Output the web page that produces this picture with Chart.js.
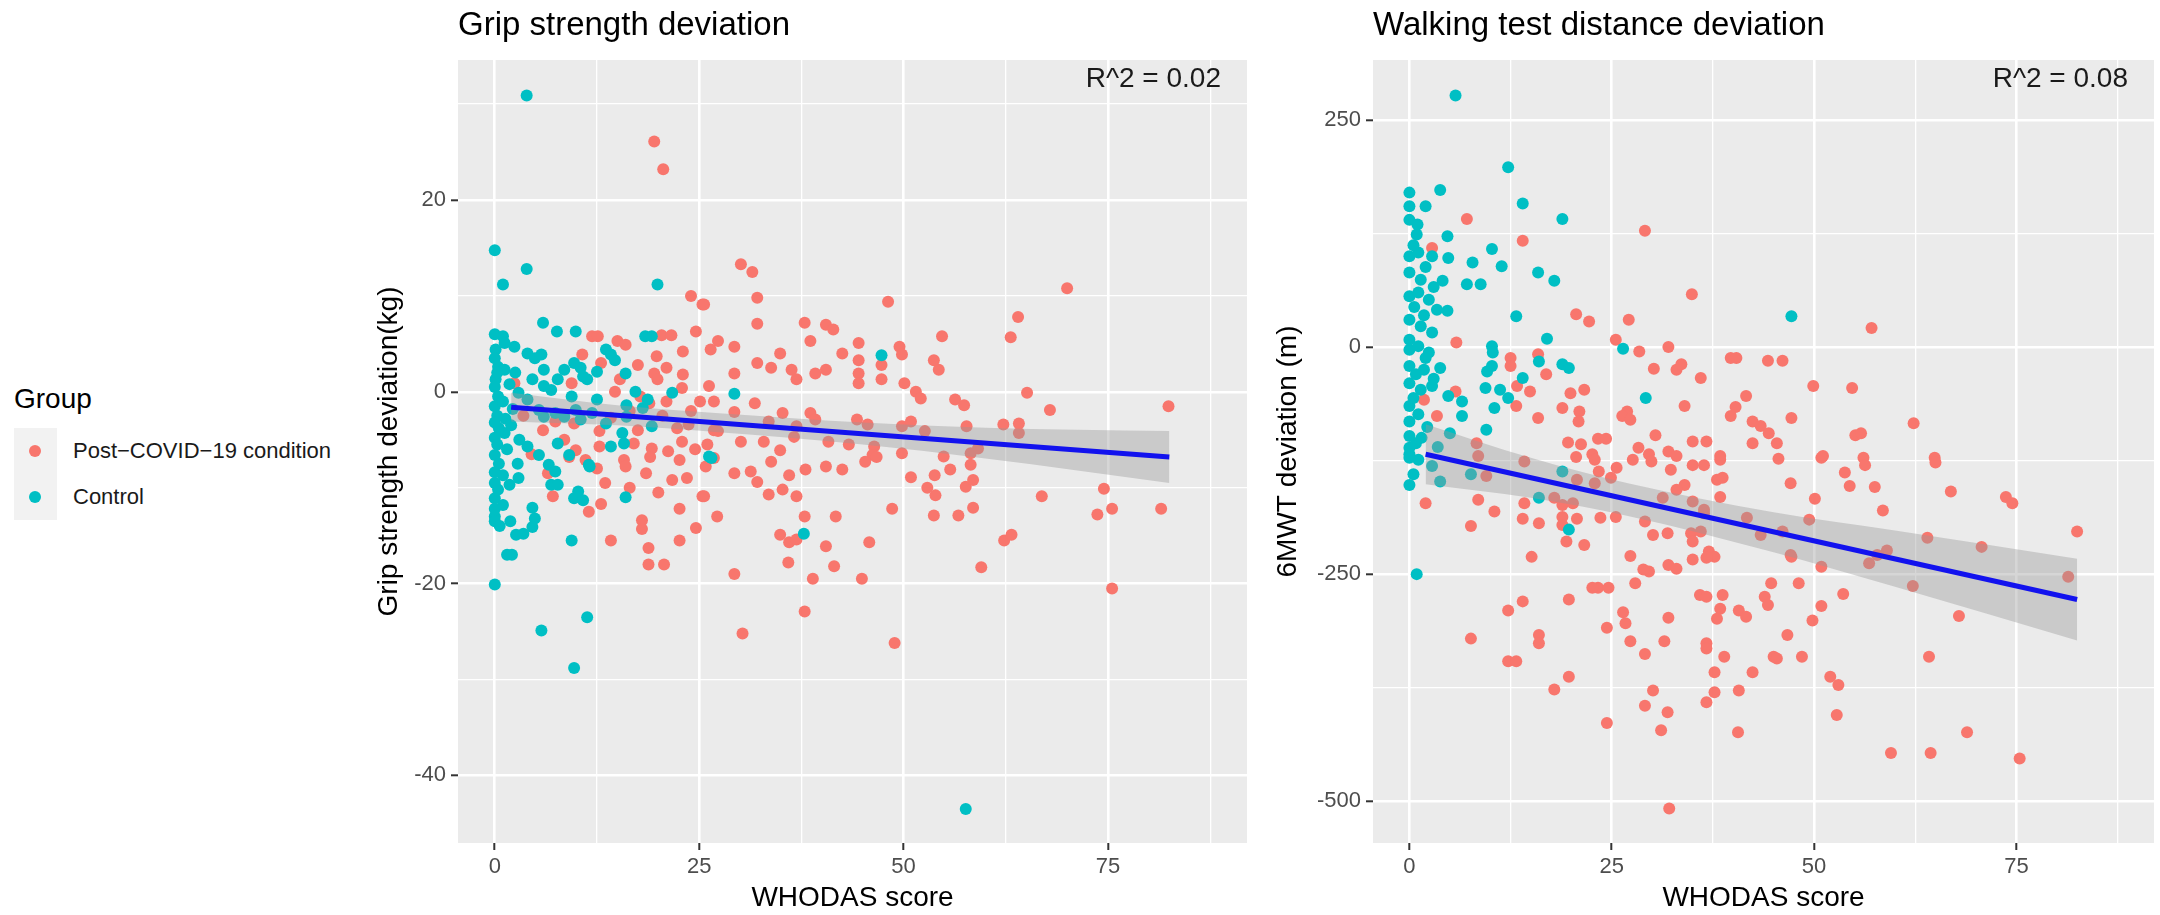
<!DOCTYPE html>
<html>
<head>
<meta charset="utf-8">
<title>Grip strength and walking test deviation vs WHODAS score</title>
<script src="https://cdn.jsdelivr.net/npm/chart.js@4.4.1/dist/chart.umd.min.js"></script>
<style>
  html, body { margin: 0; padding: 0; background: #fff; }
  body { width: 2160px; height: 915px; position: relative; overflow: hidden;
         font-family: "Liberation Sans", Arial, sans-serif; }
  canvas { position: absolute; top: 0; }
  #grip-canvas { left: 340px; }
  #walk-canvas { left: 1260px; }
  .legend-title { position: absolute; left: 14px; top: 383px; font-size: 28px; line-height: 32px; color: #000; }
  .legend-key { position: absolute; left: 14px; width: 43px; height: 46px; background: #F2F2F2; }
  .legend-key span { position: absolute; left: 15px; top: 17px; width: 12px; height: 12px; border-radius: 50%; }
  .legend-label { position: absolute; left: 73px; font-size: 22px; line-height: 26px; color: #1a1a1a; white-space: nowrap; }
</style>
</head>
<body>
<div id="legend"></div>
<canvas id="grip-canvas" width="920" height="915"></canvas>
<canvas id="walk-canvas" width="900" height="915"></canvas>

<script>
// ============================================================
// DATA
// ============================================================
const groupLabels = ['Post\u2212COVID\u221219 condition', 'Control'];
const panelTitles = ['Grip strength deviation', 'Walking test distance deviation'];
const yAxisTitles = ['Grip strength deviation(kg)', '6MWT deviation (m)'];
const xAxisTitle = 'WHODAS score';
const r2Texts = ['R^2 = 0.02', 'R^2 = 0.08'];

// x axis (shared WHODAS score scale)
const whodasTicks = [0, 25, 50, 75];
const whodasMinor = [12.5, 37.5, 62.5, 87.5];
const whodasRange = [-4.5, 92];

// grip strength y axis
const gripYTicks = [20, 0, -20, -40];
const gripYMinor = [30, 10, -10, -30];
const gripYRange = [-47.05, 34.6];

// walking test y axis
const walkYTicks = [250, 0, -250, -500];
const walkYMinor = [125, -125, -375];
const walkYRange = [-546, 316];

// ---- Grip strength: Post-COVID-19 condition [WHODAS, kg] ----
const gripPostCovid = [
  [19.5,26.1],[20.6,23.2],[24.0,10.0],[25.4,9.1],[24.6,6.3],[11.9,5.8],[12.6,5.8],[15.0,5.3],[16.0,4.9],
  [20.4,5.9],[21.6,5.9],[10.7,3.9],[19.8,3.7],[23.0,4.2],[26.4,4.4],[19.5,1.9],[19.9,1.3],[15.3,1.3],
  [22.9,0.4],[26.2,0.6],[2.4,0.9],[9.4,0.9],[14.7,0.0],[17.8,-0.5],[18.9,-1.2],[25.1,-1.0],[5.9,-4.0],
  [7.4,-3.1],[9.7,-3.3],[12.8,-4.1],[14.2,-2.7],[17.5,-4.0],[22.3,-3.8],[23.7,-3.4],[26.8,-4.0],[8.5,-5.0],
  [9.9,-6.1],[12.8,-5.7],[17.0,-5.4],[19.2,-5.9],[21.2,-6.2],[22.9,-5.2],[26.0,-5.5],
  [7.1,-10.9],[13.0,-11.7],[14.2,-15.5],[18.0,-13.4],[18.0,-14.3],[18.8,-16.3],[18.8,-18.0],[20.7,-18.0],
  [21.7,-9.2],[22.6,-12.2],[22.6,-15.5],[24.6,-14.2],[25.4,-10.9],[15.8,-7.1],[16.0,-7.8],[22.6,-7.1],
  [9.1,-6.8],[11.1,-7.1],[12.5,-8.0],
  [16.5,-2.0],[20.5,-2.5],[21.0,-1.0],[24.0,-2.0],[18.5,-8.5],[20.0,-10.5],[23.5,-9.0],[25.8,-7.8],
  [13.5,-9.5],[11.5,-12.5],[3.5,-2.5],[4.5,-6.5],[6.5,-8.5],[16.5,-10.0],[19.0,-6.8],[21.0,2.5],
  [17.5,2.8],[13.0,3.0],[24.5,-6.0],[23.0,1.8],
  [30.1,13.3],[31.5,12.5],[32.1,9.8],[25.6,9.1],[32.1,7.1],[48.1,9.4],[70.0,10.8],[64.0,7.8],[63.1,5.7],
  [37.9,7.2],[40.5,7.0],[41.4,6.5],[54.7,5.8],[38.6,5.3],[29.3,4.7],[27.3,5.3],[34.9,4.0],[42.5,4.0],
  [44.5,5.1],[49.5,4.7],[32.1,3.0],[29.3,1.9],[33.8,2.5],[36.3,2.3],[36.9,1.3],[39.2,1.9],[40.5,2.3],
  [44.5,3.3],[44.5,1.9],[44.5,0.9],[47.3,2.8],[47.3,1.3],[50.1,0.9],[49.8,3.9],[53.7,3.3],[54.3,2.3],
  [51.5,0.0],[52.1,-0.7],[56.3,-0.8],[57.4,-1.4],[65.1,-0.1],[67.9,-1.9],[82.4,-1.5],[26.8,-1.0],
  [29.3,-2.1],[31.8,-1.2],[33.5,-3.1],[35.2,-2.2],[36.9,-3.6],[38.6,-2.2],[39.2,-2.9],[44.3,-2.9],
  [45.6,-3.4],[49.8,-3.6],[50.9,-3.1],[52.6,-4.1],[57.7,-3.6],[62.2,-3.4],[64.1,-3.3],[64.1,-4.3],
  [27.3,-4.1],[30.1,-5.2],[32.9,-5.2],[34.9,-6.1],[36.6,-4.7],[40.8,-5.2],[43.3,-5.5],[46.4,-5.7],
  [46.2,-6.6],[49.8,-6.4],[54.9,-6.75],[58.2,-6.4],[59.1,-5.9],
  [25.6,-10.9],[27.2,-13.0],[29.3,-19.0],[30.3,-25.2],[33.5,-10.7],[35.2,-10.2],[36.9,-10.9],[37.9,-13.0],
  [34.9,-14.9],[36.0,-15.7],[36.9,-15.4],[35.9,-17.8],[38.9,-19.5],[37.9,-22.9],[40.5,-16.1],[41.7,-13.0],
  [41.5,-18.2],[44.9,-19.5],[45.8,-15.7],[48.6,-12.2],[48.9,-26.2],[50.9,-8.9],[52.9,-10.0],[53.9,-10.8],
  [53.8,-8.7],[55.7,-8.1],[53.7,-12.9],[56.7,-12.9],[58.5,-12.1],[57.6,-9.9],[58.5,-9.2],[59.5,-18.3],
  [62.3,-15.5],[63.2,-14.9],[66.9,-10.9],[74.5,-10.1],[73.7,-12.8],[75.5,-12.2],[75.5,-20.5],[81.5,-12.2],
  [26.8,-6.9],[29.3,-8.5],[31.3,-8.3],[32.1,-9.4],[33.8,-7.3],[36.0,-8.7],[38.0,-8.1],[40.5,-7.8],
  [42.5,-8.1],[45.3,-7.3],[46.7,-6.8],[58.2,-7.6]
];

// ---- Grip strength: Control ----
const gripControl = [
  [3.9,30.9],[0,14.75],[1.0,11.2],[3.9,12.8],[19.9,11.2],[5.9,7.2],[7.6,6.3],[9.9,6.3],[18.4,5.8],[19.2,5.8],
  [0,-20.1],[5.7,-24.9],[11.3,-23.5],[9.7,-28.8],[9.4,-15.5],[1.5,-17],[2.1,-17],[16,-11],[11.6,-7.8],
  [57.6,-43.5],[37.8,-14.8],[26.5,-6.9],[47.3,3.8],[29.3,-0.2],[26.2,-6.75],
  [1.0,5.8],[0.1,4.4],[1.2,5.1],[2.4,4.7],[0.4,2.6],[0.1,1.3],[1.2,2.3],[4.0,4.0],[4.9,3.5],[5.7,3.9],
  [4.6,1.3],[6.0,2.3],[6.9,0.2],[7.7,1.3],[8.5,2.3],[9.7,3.0],[10.5,2.5],[10.8,1.6],[11.3,1.3],[12.5,2.1],
  [13.6,4.4],[14.2,3.9],[14.7,3.3],[16.0,1.9],[17.2,0.0],[18.7,-0.8],[18.1,-1.7],[21.7,-0.1],[16.1,-1.4],
  [12.5,-0.8],[9.4,-0.5],[6.0,0.6],[2.9,-0.1],[4.0,-0.8],[5.4,-1.9],[6.0,-2.6],[7.4,-2.2],[8.5,-2.6],
  [9.9,-1.9],[10.5,-2.9],[11.9,-2.2],[13.6,-3.3],[16.1,-2.6],[19.2,-3.6],[15.6,-4.3],[15.8,-5.4],
  [14.2,-5.7],[7.7,-5.4],[5.4,-6.6],[4.0,-5.7],[9.1,-6.6],[1.2,-4.3],
  [0,-6.6],[0.5,-7.5],[0,-8.4],[1.0,-8.7],[1.8,-9.7],[2.9,-9.0],[0,-11.1],[0,-13.0],[0,-13.5],[1.9,-13.5],
  [4.6,-12.1],[4.9,-13.2],[2.6,-14.9],[3.5,-14.8],[4.6,-14.1],[6.6,-7.6],[7.4,-8.3],[6.9,-9.7],[7.7,-9.7],
  [9.7,-11.1],[10.2,-10.4],[10.8,-11.3],[11.5,-7.6],
  [0,6.0],[0,3.5],[0.3,2.0],[0,0.5],[0.4,-0.5],[0,-1.5],[0.3,-2.5],[0,-3.2],[0.5,-3.8],[0,-4.8],
  [0.3,-5.5],[0,-9.5],[0.4,-10.2],[0,-12.2],[1.0,-1.0],[1.3,-2.8],[1.5,-6.0],[2.0,-3.5],[2.2,-1.8],
  [2.5,2.0],[3.0,-5.0],[1.8,0.8],[2.8,-7.5],[1.0,-11.8],[0.6,-14.0]
];

// ---- Grip strength: linear fit and 95% band ----
const gripFitLine = [[2, -1.6], [82.5, -6.8]];
const gripBandUpper = [[2, -0.1], [15, -1.4], [27, -2.2], [45, -3.2], [60, -3.75], [82.5, -4.1]];
const gripBandLower = [[2, -3.1], [15, -3.5], [27, -4.2], [45, -5.5], [60, -6.95], [82.5, -9.5]];

// ---- Walking test: Post-COVID-19 condition [WHODAS, m] ----
const walkPostCovid = [
  [7.1,141],[14.0,117],[29.1,128],[2.8,109],[34.9,58],[20.6,36],[22.2,28],[27.1,30],[57.1,21],[5.8,5],
  [25.5,8],[28.4,-5],[32.0,0],[12.5,-12],[12.5,-21],[15.9,-8],[16.9,-30],[30.2,-24],[33.0,-25],[33.6,-19],
  [36.0,-34],[39.7,-12],[40.4,-12],[44.3,-15],[46.1,-15],[49.9,-43],[54.7,-45],[13.3,-43],[14.9,-49],
  [19.9,-51],[21.6,-47],[5.7,-49],[1.8,-58],[3.4,-76],[13.2,-65],[15.9,-78],[18.9,-67],[21.0,-71],
  [20.9,-82],[26.9,-71],[26.3,-76],[27.3,-80],[34.0,-65],[41.6,-54],[40.3,-66],[39.7,-76],[42.4,-82],
  [43.4,-87],[44.4,-95],[45.4,-106],[47.2,-78],[55.1,-97],[55.8,-95],[62.3,-84],[64.9,-122],[30.4,-97],
  [19.6,-105],[21.2,-107],[23.3,-101],[24.3,-101],[8.3,-106],[35.0,-104],[36.7,-104],[42.4,-106],
  [51.1,-120],[56.1,-122],[28.3,-111],[29.6,-118],[32.0,-115],[33.0,-120],[38.4,-120],[22.6,-118],
  [8.5,-120],[14.2,-126],[9.5,-142],[2.0,-172],[8.5,-168],[10.5,-181],[14.2,-172],[14.0,-189],[16.0,-194],
  [7.6,-197],[17.9,-166],[18.9,-174],[20.2,-172],[18.9,-187],[18.9,-196],[19.4,-214],[20.7,-189],
  [21.6,-218],[23.6,-188],[25.5,-187],[15.1,-231],[20.7,-146],[22.9,-150],[23.4,-137],[24.9,-144],
  [20.6,-121],[22.9,-124],[25.6,-133],[27.3,-230],[29.1,-192],[30.1,-207],[31.9,-205],[31.3,-166],
  [29.6,-247],[28.9,-245],[32.0,-240],[33.0,-244],[32.3,-135],[34.0,-152],[33.0,-157],[35.0,-170],
  [36.4,-179],[36.4,-183],[34.8,-205],[36.0,-203],[35.0,-214],[35.0,-234],[37.0,-225],[37.7,-231],
  [36.7,-232],[38.0,-146],[38.7,-144],[38.4,-165],[36.4,-130],[35.0,-130],[41.7,-188],[43.4,-207],
  [46.1,-203],[47.1,-150],[49.4,-190],[50.1,-167],[47.1,-229],[50.9,-242],[44.7,-260],[48.1,-260],
  [53.6,-272],[23.3,-265],[24.6,-265],[22.6,-265],[27.9,-260],[14.0,-280],[12.2,-290],[19.7,-278],
  [35.9,-273],[36.7,-275],[38.7,-273],[43.9,-275],[44.3,-284],[26.4,-292],[26.7,-304],[24.4,-309],
  [32.0,-298],[40.7,-290],[41.6,-297],[38.4,-288],[38.0,-299],[50.9,-285],[49.8,-301],[27.3,-324],
  [31.5,-324],[36.7,-326],[36.7,-332],[16.0,-317],[16.0,-326],[7.6,-321],[29.1,-338],[46.7,-317],
  [38.9,-341],[45.0,-341],[45.4,-343],[48.5,-341],[42.4,-358],[37.7,-358],[64.2,-341],[52.0,-363],
  [53.0,-372],[12.2,-346],[13.2,-346],[19.7,-363],[17.9,-377],[30.1,-378],[37.7,-380],[36.7,-391],
  [40.7,-378],[29.1,-395],[31.9,-402],[52.8,-405],[24.4,-414],[31.1,-422],[40.6,-424],[68.9,-424],
  [59.5,-447],[64.4,-447],[75.4,-453],[32.1,-508],[82.5,-203],[81.4,-253],[70.7,-220],[67.9,-296],
  [62.2,-263],[64.0,-210],[59.0,-224],[56.8,-238],[57.8,-229],[47.2,-231],[50.9,-122],[53.8,-138],
  [54.4,-153],[56.3,-130],[57.5,-154],[58.5,-180],[66.9,-159],[73.7,-165],[74.5,-172],[65.0,-127],
  [45.6,-123],[38.4,-124],[29.9,-126],[27.6,-124]
];

// ---- Walking test: Control ----
const walkControl = [
  [5.7,277],[12.2,198],[18.9,141],[0,170],[0,155],[2.0,155],[3.8,173],[14.0,158],[0.9,124],[4.7,122],
  [0,100],[1.1,104],[2.8,100],[4.8,98],[7.8,93],[10.2,108],[11.4,89],[0,82],[1.4,74],[4.1,73],[7.1,69],
  [8.8,69],[15.9,82],[17.9,73],[0,56],[1.1,60],[2.4,52],[3.4,41],[4.7,40],[13.2,34],[47.2,34],[0,30],
  [1.4,23],[2.8,16],[17.0,9],[0,-3],[1.1,1],[2.4,-6],[10.2,1],[10.3,-6],[26.4,-2],[0,-21],[1.8,-25],
  [3.8,-23],[9.6,-27],[10.2,-21],[16.0,-16],[18.9,-19],[19.7,-23],[14.0,-34],[0,-40],[1.4,-47],[2.8,-43],
  [9.4,-45],[11.2,-47],[12.2,-56],[4.8,-54],[6.5,-60],[6.5,-76],[10.5,-67],[29.2,-56],[0,-65],[1.1,-74],
  [0,-82],[9.5,-91],[0,-98],[0.8,-106],[0,-111],[0,-118],[1.1,-124],[0,-122],[0,-152],[2.8,-131],
  [3.8,-148],[7.6,-140],[18.9,-137],[16.0,-166],[19.7,-201],[0.9,-250],
  [0,140],[1.0,135],[0.5,112],[2.0,88],[3.0,66],[0.6,44],[1.8,35],[0,8],[2.0,-12],[0.8,-30],[3.0,-35],
  [0.5,-56],[2.2,-88],[1.5,-100],[0.5,-140],[3.5,-110],[5.0,-95]
];

// ---- Walking test: linear fit and 95% band ----
const walkFitLine = [[2, -118], [82.5, -278]];
const walkBandUpper = [[2, -85], [15, -122], [27, -150], [45, -182], [60, -202], [82.5, -233]];
const walkBandLower = [[2, -151], [15, -166], [27, -186], [45, -226], [60, -264], [82.5, -323]];

// ============================================================
// STYLE
// ============================================================
const POST_RED = '#F8766D';
const CONTROL_TEAL = '#00BFC4';
const FIT_BLUE = '#1212EE';
const BAND_FILL = 'rgba(153,153,153,0.4)';
const PANEL_GREY = '#EBEBEB';
const TICK_GREY = '#4D4D4D';
const FONT = '"Liberation Sans", Arial, sans-serif';
const POINT_R = 6;

Chart.defaults.font.family = FONT;

// ============================================================
// LEGEND (HTML, left of the first panel)
// ============================================================
function renderLegend() {
  const el = document.getElementById('legend');
  const colors = [POST_RED, CONTROL_TEAL];
  let html = '<div class="legend-title">Group</div>';
  groupLabels.forEach((label, i) => {
    const top = 428 + i * 46;
    html += `<div class="legend-key" style="top:${top}px"><span style="background:${colors[i]}"></span></div>`;
    html += `<div class="legend-label" style="top:${top + 10}px">${label}</div>`;
  });
  el.innerHTML = html;
}

// ============================================================
// PLUGINS
// ============================================================
const panelBackground = {
  id: 'panelBackground',
  beforeDraw(chart) {
    const { ctx, chartArea: a } = chart;
    ctx.save();
    ctx.fillStyle = PANEL_GREY;
    ctx.fillRect(a.left, a.top, a.right - a.left, a.bottom - a.top);
    ctx.restore();
  }
};

const r2Label = {
  id: 'r2Label',
  afterDatasetsDraw(chart, args, opts) {
    const { ctx, chartArea: a } = chart;
    ctx.save();
    ctx.font = `28px ${FONT}`;
    ctx.fillStyle = '#1a1a1a';
    ctx.textAlign = 'right';
    ctx.textBaseline = 'alphabetic';
    ctx.fillText(opts.text, a.right - 26, a.top + 27);
    ctx.restore();
  }
};

// ============================================================
// HELPERS
// ============================================================
const toPoints = (arr) => arr.map(([x, y]) => ({ x, y }));

function tickList(major, minor) {
  return major.map(v => ({ value: v, minor: false }))
    .concat(minor.map(v => ({ value: v, minor: true })))
    .sort((a, b) => a.value - b.value);
}

const tickLabel = (value, index, ticks) => (ticks[index] && ticks[index].minor ? '' : String(value));

const gridStyle = {
  color: '#FFFFFF',
  lineWidth: (c) => (c.tick && c.tick.minor ? 1.3 : 2.6),
  drawTicks: true,
  tickLength: 7,
  tickWidth: 2,
  tickColor: (c) => (c.tick && c.tick.minor ? 'rgba(0,0,0,0)' : '#333333')
};

function makePanel(canvasId, p) {
  const ctx = document.getElementById(canvasId).getContext('2d');
  return new Chart(ctx, {
    type: 'scatter',
    data: {
      datasets: [
        { type: 'line', data: toPoints(p.fit), borderColor: FIT_BLUE, borderWidth: 5,
          pointRadius: 0, fill: false },
        { type: 'line', data: toPoints(p.upper), borderWidth: 0, borderColor: 'rgba(0,0,0,0)',
          backgroundColor: BAND_FILL, pointRadius: 0, fill: '+1', cubicInterpolationMode: 'monotone' },
        { type: 'line', data: toPoints(p.lower), borderWidth: 0, borderColor: 'rgba(0,0,0,0)',
          pointRadius: 0, fill: false, cubicInterpolationMode: 'monotone' },
        { label: groupLabels[1], data: toPoints(p.control), pointBackgroundColor: CONTROL_TEAL,
          pointBorderWidth: 0, pointRadius: POINT_R, pointHoverRadius: POINT_R },
        { label: groupLabels[0], data: toPoints(p.post), pointBackgroundColor: POST_RED,
          pointBorderWidth: 0, pointRadius: POINT_R, pointHoverRadius: POINT_R }
      ]
    },
    options: {
      responsive: false,
      animation: false,
      devicePixelRatio: 1,
      events: [],
      layout: { padding: { left: 0, right: p.padRight, top: 0, bottom: 0 } },
      plugins: {
        legend: { display: false },
        tooltip: { enabled: false },
        title: {
          display: true, text: p.title, align: 'start', fullSize: false, color: '#000',
          font: { size: 33, weight: 'normal' }, padding: { top: 6, bottom: 14.4 }
        },
        r2Label: { text: p.r2 }
      },
      scales: {
        x: {
          type: 'linear', min: whodasRange[0], max: whodasRange[1], bounds: 'data',
          afterBuildTicks: (s) => { s.ticks = tickList(whodasTicks, whodasMinor); },
          afterFit: (s) => { s.height = 72; },
          ticks: { autoSkip: false, maxRotation: 0, color: TICK_GREY, font: { size: 22 },
                   padding: 4, callback: tickLabel },
          grid: gridStyle,
          border: { display: false },
          title: { display: true, text: xAxisTitle, color: '#000', font: { size: 28 },
                   padding: { top: 0, bottom: 0 } }
        },
        y: {
          type: 'linear', min: p.yRange[0], max: p.yRange[1], bounds: 'data',
          afterBuildTicks: (s) => { s.ticks = tickList(p.yTicks, p.yMinor); },
          afterFit: (s) => { s.width = p.yAxisWidth; },
          ticks: { autoSkip: false, color: TICK_GREY, font: { size: 22 }, padding: 5, callback: tickLabel },
          grid: gridStyle,
          border: { display: false },
          title: { display: true, text: p.yTitle, color: '#000', font: { size: 28 },
                   padding: { top: p.yTitlePad, bottom: 0 } }
        }
      }
    },
    plugins: [panelBackground, r2Label]
  });
}

// ============================================================
// RENDER
// ============================================================
renderLegend();

makePanel('grip-canvas', {
  title: panelTitles[0], yTitle: yAxisTitles[0], r2: r2Texts[0],
  post: gripPostCovid, control: gripControl,
  fit: gripFitLine, upper: gripBandUpper, lower: gripBandLower,
  yTicks: gripYTicks, yMinor: gripYMinor, yRange: gripYRange,
  yAxisWidth: 118, yTitlePad: 32, padRight: 13
});

makePanel('walk-canvas', {
  title: panelTitles[1], yTitle: yAxisTitles[1], r2: r2Texts[1],
  post: walkPostCovid, control: walkControl,
  fit: walkFitLine, upper: walkBandUpper, lower: walkBandLower,
  yTicks: walkYTicks, yMinor: walkYMinor, yRange: walkYRange,
  yAxisWidth: 113, yTitlePad: 11, padRight: 0
});
</script>
</body>
</html>
